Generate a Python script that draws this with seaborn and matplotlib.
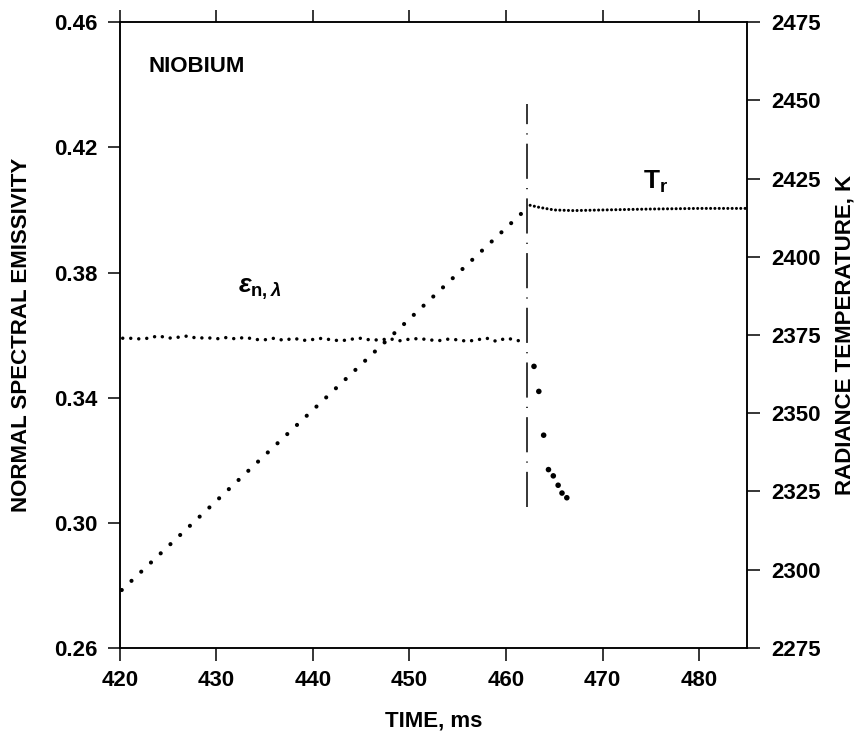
import matplotlib
matplotlib.use("Agg")
import matplotlib.pyplot as plt
import seaborn as sns
import pandas as pd

# Radiance temperature (dotted trace), vertices
temp_time = [420.2, 462.5]
temp_ramp = [2293.5, 2416.5]
flat_time = [462.5, 463.5, 465.0, 467.0, 470.0, 475.0, 480.0, 485.0]
flat_temp = [2416.5, 2415.8, 2415.0, 2414.8, 2415.0, 2415.3, 2415.5, 2415.5]

# Normal spectral emissivity before melting
eps_time = [420.3, 421, 422, 423, 424, 425, 426, 427, 428, 429, 430, 431, 432,
            433, 434, 435, 436, 437, 438, 439, 440, 441, 442, 443, 444, 445,
            446, 447, 448, 449, 450, 451, 452, 453, 454, 455, 456, 457, 458,
            459, 460, 461, 462]
eps_vals = [0.3590, 0.3590, 0.3588, 0.3590, 0.3598, 0.3590, 0.3593, 0.3597,
            0.3590, 0.3592, 0.3588, 0.3592, 0.3588, 0.3593, 0.3586, 0.3585,
            0.3590, 0.3583, 0.3590, 0.3583, 0.3586, 0.3590, 0.3584, 0.3582,
            0.3587, 0.3590, 0.3584, 0.3585, 0.3588, 0.3582, 0.3587, 0.3589,
            0.3585, 0.3582, 0.3587, 0.3585, 0.3580, 0.3585, 0.3590, 0.3580,
            0.3590, 0.3585, 0.3575]

# Emissivity points after melting starts
drop_time = [462.9, 463.4, 463.9, 464.4, 464.9, 465.4, 465.8, 466.3]
drop_vals = [0.350, 0.342, 0.328, 0.317, 0.315, 0.312, 0.3095, 0.308]

melt_time = 462.2
melt_lo, melt_hi = 0.305, 0.434

sns.set_style("white")
plt.rcParams["font.family"] = ["Liberation Sans", "DejaVu Sans"]
plt.rcParams["font.weight"] = "bold"
plt.rcParams["text.color"] = "black"
plt.rcParams["axes.labelcolor"] = "black"
plt.rcParams["mathtext.fontset"] = "custom"
plt.rcParams["mathtext.rm"] = "Liberation Sans"
plt.rcParams["mathtext.bf"] = "Liberation Sans:bold"
plt.rcParams["mathtext.it"] = "Liberation Sans:italic"

fig = plt.figure(figsize=(8.62, 7.43), dpi=100)
ax = fig.add_axes([0.139, 0.128, 0.728, 0.842])
ax2 = ax.twinx()

dot_big = dict(color="black", lw=3.0, dash_capstyle="round", linestyle=(0, (0.01, 3.2)))
dot_small = dict(color="black", lw=2.2, dash_capstyle="round", linestyle=(0, (0.01, 1.4)))
dot_eps = dict(color="black", lw=2.5, dash_capstyle="round", linestyle=(0, (0.01, 2.3)))

# emissivity on left axis
sns.lineplot(x=eps_time, y=eps_vals, ax=ax, estimator=None, sort=False, **dot_eps)
sns.scatterplot(x=drop_time, y=drop_vals, ax=ax, color="black", s=16, edgecolor="none")
ax.vlines(melt_time, melt_lo, melt_hi, color="black", lw=1.1,
          linestyles=(0, (23, 6, 0.8, 6)))

# temperature on right axis
sns.lineplot(x=temp_time, y=temp_ramp, ax=ax2, estimator=None, sort=False, **dot_big)
sns.lineplot(x=flat_time, y=flat_temp, ax=ax2, estimator=None, sort=False, **dot_small)

ax.set_xlim(420, 485)
ax.set_ylim(0.26, 0.46)
ax2.set_ylim(2275, 2475)
ax.set_xticks([420, 430, 440, 450, 460, 470, 480])
ax.set_yticks([0.26, 0.30, 0.34, 0.38, 0.42, 0.46])
ax2.set_yticks([2275, 2300, 2325, 2350, 2375, 2400, 2425, 2450, 2475])
ax.set_yticklabels([f"{v:.2f}" for v in ax.get_yticks()])

ax.tick_params(axis="both", direction="out", length=9, width=1.1,
               labelsize=16, pad=7, colors="black")
ax.tick_params(axis="x", top=True, bottom=True)
ax2.tick_params(axis="y", direction="out", length=9, width=1.1,
                labelsize=16, pad=8, colors="black")

for a in (ax, ax2):
    for sp in a.spines.values():
        sp.set_color("black")
        sp.set_linewidth(1.1)

ax.set_xlabel("TIME, ms", fontsize=16, fontweight="bold", labelpad=14)
ax.set_ylabel("NORMAL SPECTRAL EMISSIVITY", fontsize=16, fontweight="bold", labelpad=16)
ax2.set_ylabel("RADIANCE TEMPERATURE, K", fontsize=16, fontweight="bold", labelpad=10)

ax.text(0.045, 0.93, "NIOBIUM", transform=ax.transAxes, fontsize=16,
        fontweight="bold", va="center", ha="left")
ax.text(432.2, 0.3745, r"$\varepsilon_{\mathbf{n},\lambda}$", fontsize=19,
        va="center", ha="left")
ax2.text(474.2, 2424, r"$\mathbf{T}_{\mathbf{r}}$", fontsize=19,
         va="center", ha="left")

fig.savefig("out.png", dpi=100)
